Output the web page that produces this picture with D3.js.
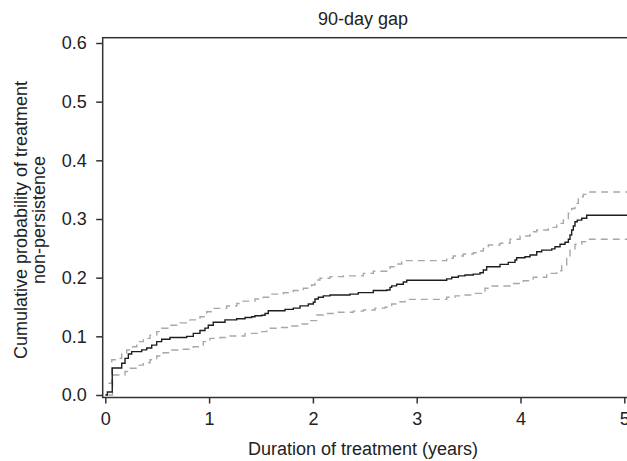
<!DOCTYPE html>
<html>
<head>
<meta charset="utf-8">
<script src="https://cdn.jsdelivr.net/npm/d3@7"></script>
<style>
	body { margin: 0; background: #fff; }
	svg text { font-family: "Liberation Sans", Arial, Helvetica, sans-serif; fill: #222; }
</style>
</head>
<body>
<div class="graphic"></div>
<script>
// Kaplan-Meier style cumulative probability, [years, probability]
var meanCurve = [
	[0, 0], [0.02, 0.005], [0.067, 0.046], [0.158, 0.054], [0.19, 0.0625], [0.222, 0.07],
	[0.254, 0.074], [0.351, 0.077], [0.399, 0.08], [0.447, 0.085], [0.495, 0.091], [0.543, 0.095],
	[0.623, 0.098], [0.784, 0.1], [0.848, 0.105], [0.912, 0.11], [0.96, 0.114], [0.992, 0.119],
	[1.04, 0.124], [1.153, 0.128], [1.266, 0.13], [1.346, 0.132], [1.41, 0.1335], [1.442, 0.135],
	[1.507, 0.136], [1.539, 0.139], [1.57, 0.1437], [1.731, 0.146], [1.811, 0.148], [1.876, 0.152],
	[1.956, 0.155], [2.004, 0.158], [2.02, 0.1636], [2.052, 0.1665], [2.1, 0.169], [2.165, 0.1705],
	[2.357, 0.172], [2.437, 0.1745], [2.582, 0.178], [2.711, 0.179], [2.743, 0.1835], [2.759, 0.186],
	[2.807, 0.1887], [2.871, 0.1926], [2.904, 0.1955], [3.289, 0.198], [3.337, 0.2006], [3.401, 0.203],
	[3.465, 0.2045], [3.545, 0.206], [3.61, 0.2085], [3.642, 0.213], [3.674, 0.2187], [3.803, 0.2227],
	[3.882, 0.226], [3.947, 0.23], [3.963, 0.234], [4.043, 0.2357], [4.092, 0.2386], [4.156, 0.2443],
	[4.204, 0.247], [4.301, 0.249], [4.332, 0.2528], [4.381, 0.2569], [4.429, 0.2603], [4.461, 0.2654],
	[4.477, 0.2727], [4.493, 0.2812], [4.509, 0.288], [4.525, 0.2954], [4.547, 0.298], [4.59, 0.3012],
	[4.638, 0.3063], [5.03, 0.3063]
];

var upperCI = [
	[0.03, 0.02], [0.062, 0.06], [0.11, 0.0625], [0.158, 0.07], [0.206, 0.0767], [0.254, 0.0823],
	[0.303, 0.091], [0.366, 0.0966], [0.431, 0.102], [0.495, 0.108], [0.543, 0.1137], [0.623, 0.119],
	[0.72, 0.123], [0.816, 0.128], [0.912, 0.1335], [0.977, 0.142], [1.04, 0.1477], [1.169, 0.1517],
	[1.266, 0.156], [1.329, 0.16], [1.442, 0.1636], [1.522, 0.1665], [1.587, 0.172], [1.715, 0.1744],
	[1.811, 0.178], [1.908, 0.182], [1.988, 0.1875], [2.02, 0.196], [2.068, 0.199], [2.165, 0.2017],
	[2.293, 0.203], [2.486, 0.2074], [2.582, 0.211], [2.711, 0.2148], [2.743, 0.2187], [2.791, 0.2233],
	[2.856, 0.2272], [2.888, 0.229], [3.289, 0.233], [3.353, 0.237], [3.449, 0.2403], [3.545, 0.2426],
	[3.61, 0.2454], [3.642, 0.25], [3.69, 0.2557], [3.803, 0.2586], [3.899, 0.2654], [3.996, 0.271],
	[4.092, 0.2783], [4.156, 0.2812], [4.268, 0.2858], [4.349, 0.2926], [4.413, 0.2983], [4.461, 0.3097],
	[4.493, 0.318], [4.525, 0.3267], [4.557, 0.338], [4.605, 0.342], [4.653, 0.346], [5.03, 0.346]
];

var lowerCI = [
	[0.03, 0], [0.07, 0.028], [0.075, 0.034], [0.19, 0.04], [0.238, 0.0455], [0.303, 0.051],
	[0.366, 0.055], [0.431, 0.06], [0.495, 0.0665], [0.559, 0.072], [0.64, 0.0767], [0.752, 0.078],
	[0.848, 0.0823], [0.896, 0.085], [0.944, 0.091], [1.008, 0.0966], [1.105, 0.098], [1.201, 0.1006],
	[1.346, 0.105], [1.49, 0.108], [1.555, 0.1137], [1.683, 0.115], [1.796, 0.1176], [1.876, 0.121],
	[1.972, 0.1267], [2.036, 0.1364], [2.1, 0.139], [2.229, 0.141], [2.389, 0.143], [2.486, 0.145],
	[2.598, 0.148], [2.695, 0.1495], [2.759, 0.155], [2.839, 0.159], [2.888, 0.163], [3.289, 0.1665],
	[3.369, 0.169], [3.449, 0.1705], [3.545, 0.1733], [3.626, 0.1773], [3.658, 0.182], [3.706, 0.1858],
	[3.899, 0.19], [4.027, 0.1948], [4.123, 0.2006], [4.252, 0.2074], [4.349, 0.2119], [4.397, 0.2216],
	[4.445, 0.233], [4.477, 0.247], [4.525, 0.2569], [4.59, 0.2613], [4.638, 0.2654], [5.03, 0.2654]
];

var xTicks = [0, 1, 2, 3, 4, 5];
var yTicks = [0, 0.1, 0.2, 0.3, 0.4, 0.5, 0.6];

var width = 627;
var height = 461;

var box = { left: 102.7, top: 37.7, right: 632, bottom: 397.5 };

var svg = d3.select('.graphic').append('svg')
	.attr('width', width)
	.attr('height', height)
	.attr('viewBox', `0 0 ${width} ${height}`);

var x = d3.scaleLinear().domain([0, 5]).range([105.3, 624.3]);
var y = d3.scaleLinear().domain([0, 0.6]).range([395, 43]);

svg.append('clipPath').attr('id', 'plotClip')
	.append('rect')
	.attr('x', box.left).attr('y', box.top)
	.attr('width', box.right - box.left).attr('height', box.bottom - box.top);

var line = d3.line()
	.x(function(d) { return x(d[0]); })
	.y(function(d) { return y(d[1]); })
	.curve(d3.curveStepAfter);

var plot = svg.append('g').attr('clip-path', 'url(#plotClip)');

[upperCI, lowerCI].forEach(function(ci) {
	plot.append('path')
		.datum(ci)
		.attr('d', line)
		.attr('fill', 'none')
		.attr('stroke', '#a8a8a8')
		.attr('stroke-width', 1.4)
		.attr('stroke-dasharray', '7,5');
});

plot.append('path')
	.datum(meanCurve)
	.attr('d', line)
	.attr('fill', 'none')
	.attr('stroke', '#1e1e1e')
	.attr('stroke-width', 1.4);

// frame
svg.append('rect')
	.attr('x', box.left).attr('y', box.top)
	.attr('width', box.right - box.left).attr('height', box.bottom - box.top)
	.attr('fill', 'none')
	.attr('stroke', '#333')
	.attr('stroke-width', 1.5);

var yAxis = svg.append('g')
	.attr('transform', `translate(${box.left},0)`)
	.call(d3.axisLeft(y).tickValues(yTicks).tickFormat(d3.format('.1f')).tickSize(6.5).tickPadding(9.5));

var xAxis = svg.append('g')
	.attr('transform', `translate(0,${box.bottom})`)
	.call(d3.axisBottom(x).tickValues(xTicks).tickFormat(d3.format('d')).tickSize(6).tickPadding(9));

[xAxis, yAxis].forEach(function(ax) {
	ax.select('.domain').remove();
	ax.selectAll('.tick line').attr('stroke', '#333').attr('stroke-width', 1.5);
	ax.selectAll('.tick text')
		.attr('font-size', 18)
		.attr('font-family', '"Liberation Sans", Arial, sans-serif')
		.attr('fill', '#222');
});

svg.append('text')
	.attr('x', 363).attr('y', 25)
	.attr('text-anchor', 'middle')
	.attr('font-size', 18)
	.text('90-day gap');

svg.append('text')
	.attr('x', 363).attr('y', 455)
	.attr('text-anchor', 'middle')
	.attr('font-size', 18)
	.text('Duration of treatment (years)');

var yTitle = svg.append('text')
	.attr('transform', 'translate(27,220) rotate(-90)')
	.attr('text-anchor', 'middle')
	.attr('font-size', 18);
yTitle.append('tspan').attr('x', 0).attr('y', 0).text('Cumulative probability of treatment');
yTitle.append('tspan').attr('x', 0).attr('y', 18).text('non-persistence');
</script>
</body>
</html>
